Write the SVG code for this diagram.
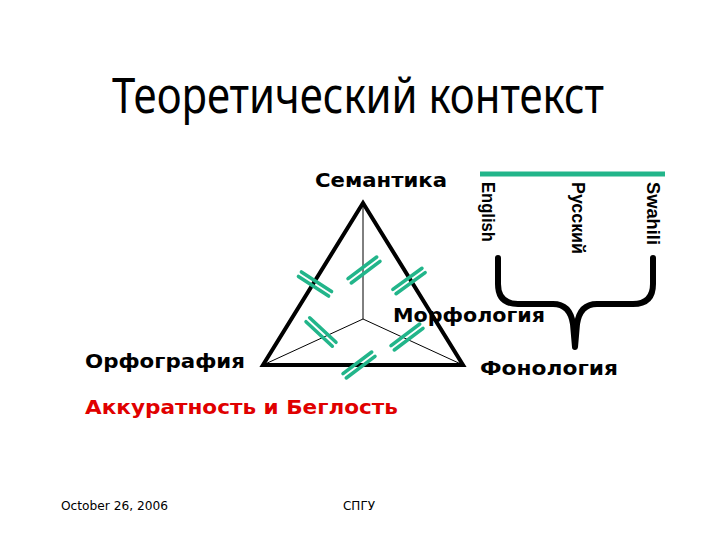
<svg xmlns="http://www.w3.org/2000/svg" xmlns:xlink="http://www.w3.org/1999/xlink" width="720" height="540" viewBox="0 0 720 540">
<style>
.title{font-family:"Noto Sans","DejaVu Sans",Tahoma,sans-serif;font-size:49px;fill:#000}
.lbl{font-family:"DejaVu Sans",Verdana,sans-serif;font-size:20px;font-weight:bold;fill:#000}
.red{fill:#e00000}
.vt{font-family:"Liberation Sans",Arial,sans-serif;font-size:18px;font-weight:bold;fill:#000}
.ft{font-family:"DejaVu Sans",Tahoma,sans-serif;font-size:12px;fill:#000}
.edge{stroke:#000;stroke-width:4;fill:none;stroke-linejoin:miter}
.thin{stroke:#000;stroke-width:1;fill:none}
.hl{stroke:#22b58a;stroke-width:3.5;stroke-linecap:round}
</style>
<defs>
<g id="hash">
<line class="hl" x1="-18" y1="-2.7" x2="18" y2="-2.7"/>
<line class="hl" x1="-18" y1="2.7" x2="18" y2="2.7"/>
</g>
</defs>
<rect width="720" height="540" fill="#fff"/>
<text class="title" x="112" y="113" textLength="492" lengthAdjust="spacingAndGlyphs">Теоретический контекст</text>
<g id="connectors">
<polygon class="edge" points="363,203 263,365 463,365"/>
<line class="thin" x1="363" y1="203" x2="363" y2="319"/>
<line class="thin" x1="363" y1="319" x2="263" y2="365"/>
<line class="thin" x1="363" y1="319" x2="463" y2="365"/>
<line x1="480" y1="174" x2="665" y2="174" stroke="#22b58a" stroke-width="5"/>
<path d="M498,258 L498,284 Q498,304 518,304 L553,304 Q570,304 573,324 L575,347 L577,324 Q580,304 597,304 L633,304 Q653,304 653,284 L653,258" fill="none" stroke="#000" stroke-width="6" stroke-linejoin="round" stroke-linecap="round"/>
</g>
<g id="hashes">
<use xlink:href="#hash" transform="translate(315,284) rotate(33)"/>
<use xlink:href="#hash" transform="translate(364,270) rotate(-37)"/>
<use xlink:href="#hash" transform="translate(409,281) rotate(-36)"/>
<use xlink:href="#hash" transform="translate(321,332) rotate(43)"/>
<use xlink:href="#hash" transform="translate(407,337) rotate(-37)"/>
<use xlink:href="#hash" transform="translate(359,365) rotate(-37)"/>
</g>
<g id="semantika"><text class="lbl" x="315" y="187" textLength="132" lengthAdjust="spacingAndGlyphs">Семантика</text></g>
<g id="morfologiya"><text class="lbl" x="393" y="322" textLength="152" lengthAdjust="spacingAndGlyphs">Морфология</text></g>
<g id="fonologiya"><text class="lbl" x="480" y="375" textLength="138" lengthAdjust="spacingAndGlyphs">Фонология</text></g>
<g id="orfografiya"><text class="lbl" x="85" y="368" textLength="160" lengthAdjust="spacingAndGlyphs">Орфография</text></g>
<g id="accuracy"><text class="lbl red" x="85" y="414" textLength="313" lengthAdjust="spacingAndGlyphs">Аккуратность и Беглость</text></g>
<g id="english"><text class="vt" transform="translate(482,182) rotate(90)" textLength="60" lengthAdjust="spacingAndGlyphs">English</text></g>
<g id="russkiy"><text class="vt" transform="translate(572,182) rotate(90)" textLength="72" lengthAdjust="spacingAndGlyphs">Русский</text></g>
<g id="swahili"><text class="vt" transform="translate(647,182) rotate(90)" textLength="63" lengthAdjust="spacingAndGlyphs">Swahili</text></g>
<g id="footer">
<text class="ft" x="61" y="510" textLength="107" lengthAdjust="spacingAndGlyphs">October 26, 2006</text>
<text class="ft" x="343" y="510" textLength="32" lengthAdjust="spacingAndGlyphs">СПГУ</text>
</g>
</svg>
